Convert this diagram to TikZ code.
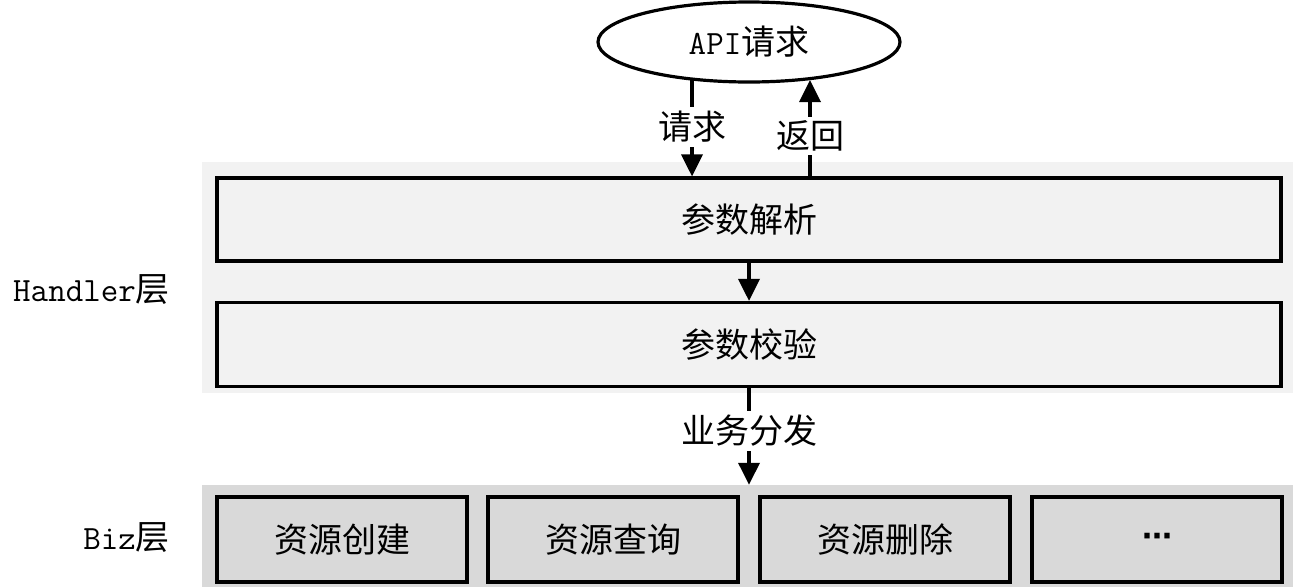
\documentclass[tikz,border=0pt]{standalone}
\usepackage{fontspec}
\newfontfamily\cjk{Noto Sans CJK SC}
\newfontfamily\symf{DejaVu Sans}
\usetikzlibrary{arrows.meta,shapes.geometric}
\definecolor{hgray}{HTML}{F2F2F2}
\definecolor{bgray}{HTML}{D9D9D9}
\tikzset{
  lbl/.style={font=\fontsize{34}{40}\selectfont\cjk, inner sep=0pt},
  hbox/.style={draw=black, line width=3.2pt, fill=hgray, minimum width=1064pt, inner sep=0pt},
  bbox/.style={draw=black, line width=3.2pt, fill=bgray, minimum width=250pt, minimum height=85pt, inner sep=0pt},
  bgarea/.style={draw=none, inner sep=0pt, minimum width=1091pt},
  arr/.style={line width=3.5pt, -{Triangle[width=21pt,length=22pt]}},
  gaplbl/.style={lbl, fill=white, inner ysep=4pt, inner xsep=2pt},
}
\begin{document}
\begin{tikzpicture}[x=1pt,y=-1pt]
\useasboundingbox (0,0) rectangle (1293,587);
% backgrounds
\node[bgarea, fill=hgray, minimum height=231pt] (hbg) at (747.5,277.5) {};
\node[bgarea, fill=bgray, minimum height=102pt] (bbg) at (747.5,536) {};
% top ellipse
\node[ellipse, draw=black, line width=3.2pt, fill=white, minimum width=302pt, minimum height=80pt, inner sep=0pt, lbl] (api) at (749,42) {{\ttfamily API}请求};
% handler boxes
\node[hbox, minimum height=83pt, lbl] (p1) at (749,219.5) {参数解析};
\node[hbox, minimum height=84pt, lbl] (p2) at (749,344.5) {参数校验};
% biz boxes
\node[bbox, lbl] (b1) at (342,539.5) {资源创建};
\node[bbox, lbl] (b2) at (613,539.5) {资源查询};
\node[bbox, lbl] (b3) at (885,539.5) {资源删除};
\node[bbox, font=\fontsize{30}{36}\selectfont\symf\bfseries] (b4) at (1157,539.5) {\raisebox{-3pt}{⋯}};
% layer labels
\node[lbl, anchor=east] (hl) at (170,290) {{\ttfamily Handler}层};
\node[lbl, anchor=east] (bl) at (170,538) {{\ttfamily Biz}层};
% connectors
\coordinate (rq) at (692,80);
\coordinate (rt) at (810,80);
\draw[arr] (rq) -- (p1.north -| rq);
\draw[arr] (p1.north -| rt) -- (rt);
\draw[arr] (p1.south) -- (p2.north);
\draw[arr] (p2.south) -- (bbg.north -| p2.south);
% connector labels
\node[gaplbl] (lq) at (692,127) {请求};
\node[gaplbl] (lr) at (810,136) {返回};
\node[gaplbl] (ld) at (749,431) {业务分发};
\end{tikzpicture}
\end{document}
